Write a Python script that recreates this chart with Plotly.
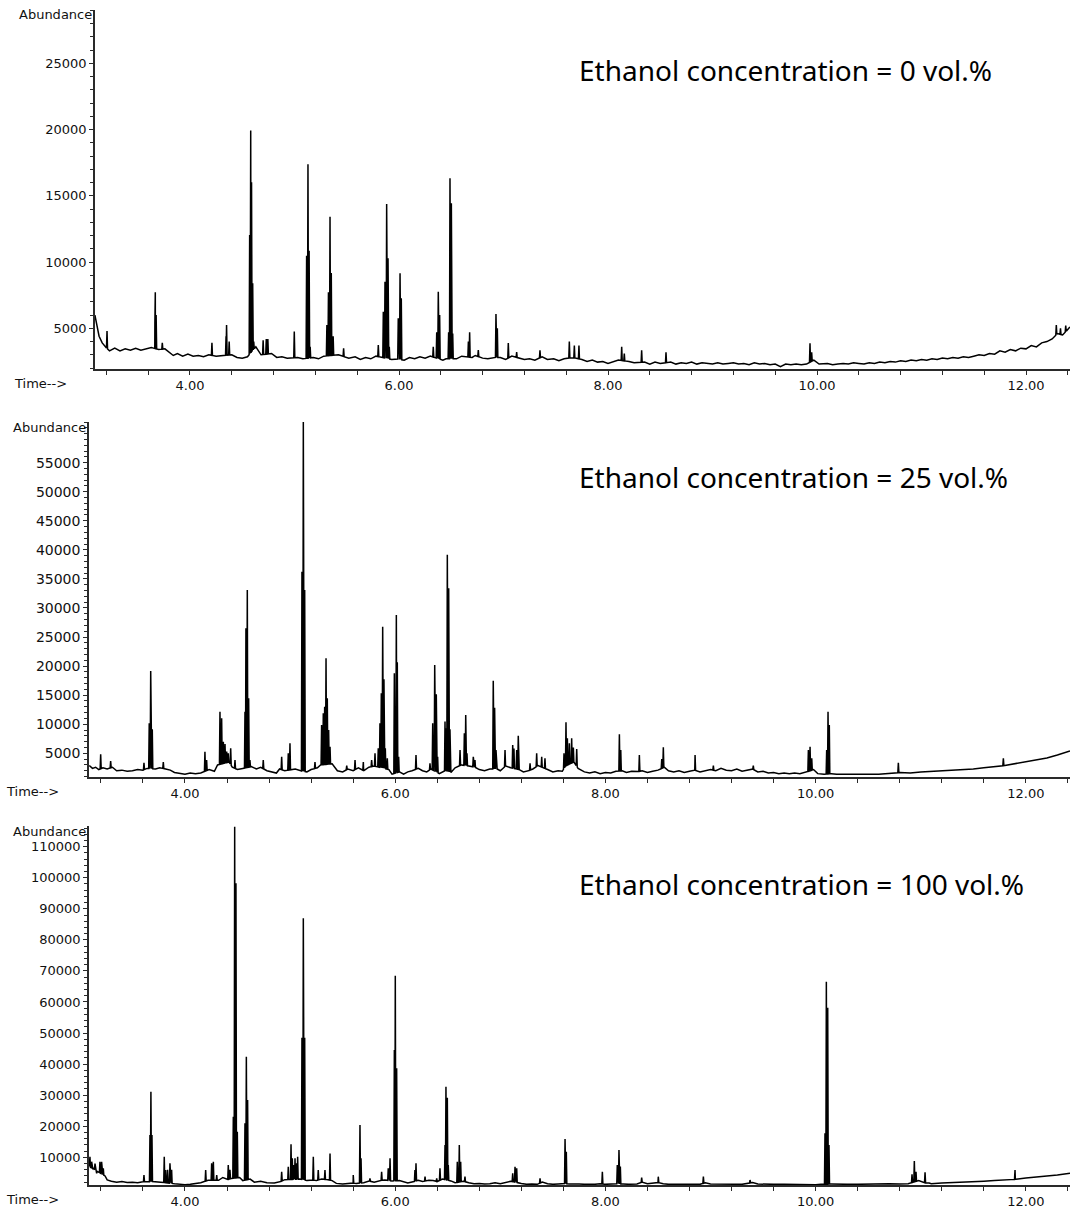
import numpy as np
import plotly.graph_objects as go

# ---------------- chromatogram data (time in min, abundance) ----------------
# Panel A: ethanol 0 vol.%
base_a_t = [3.09, 3.11, 3.13, 3.16, 3.19, 3.23, 3.28, 3.33, 3.38, 3.43, 3.48, 3.53, 3.58, 3.63, 3.70, 3.76,
            3.80, 3.84, 3.88, 3.93, 3.98, 4.03, 4.08, 4.13, 4.18, 4.25, 4.30, 4.40, 4.45, 4.50, 4.55, 4.63,
            4.68, 4.78, 4.83, 4.88, 4.93, 5.03, 5.08, 5.18, 5.23, 5.28, 5.42, 5.52, 5.58, 5.63, 5.68, 5.73,
            5.78, 5.93, 5.97, 6.05, 6.10, 6.15, 6.20, 6.25, 6.30, 6.42, 6.45, 6.55, 6.60, 6.70, 6.73, 6.80,
            6.85, 6.90, 6.97, 7.02, 7.08, 7.15, 7.20, 7.25, 7.30, 7.37, 7.42, 7.48, 7.53, 7.58, 7.66, 7.75,
            7.80, 7.85, 7.90, 7.95, 8.00, 8.05, 8.10, 8.20, 8.25, 8.35, 8.40, 8.45, 8.50, 8.60, 8.65, 8.70,
            8.75, 8.80, 8.85, 8.90, 8.95, 9.00, 9.05, 9.10, 9.15, 9.20, 9.25, 9.30, 9.35, 9.40, 9.45, 9.50,
            9.55, 9.60, 9.65, 9.70, 9.75, 9.80, 9.85, 9.90, 9.97, 10.02, 10.10, 10.15, 10.20, 10.25, 10.30,
            10.35, 10.40, 10.45, 10.50, 10.55, 10.60, 10.65, 10.70, 10.75, 10.80, 10.85, 10.90, 10.95, 11.00,
            11.05, 11.10, 11.15, 11.20, 11.25, 11.30, 11.35, 11.40, 11.45, 11.50, 11.55, 11.60, 11.65, 11.70,
            11.75, 11.80, 11.85, 11.90, 11.95, 12.00, 12.05, 12.10, 12.15, 12.20, 12.25, 12.30, 12.35, 12.40, 12.42]
base_a_y = [6000, 5300, 4400, 3900, 3600, 3300, 3500, 3300, 3450, 3350, 3500, 3350, 3450, 3550, 3400, 3450,
            3200, 2950, 3100, 2900, 3050, 2900, 2950, 2850, 3000, 2900, 2950, 3000, 2800, 2750, 2850, 3600,
            3000, 3100, 2800, 2850, 2750, 2800, 2700, 2800, 2700, 2900, 3000, 2750, 2850, 2650, 2800, 2700,
            2900, 2650, 2700, 2600, 2800, 2700, 2850, 2750, 2900, 2600, 2700, 2700, 2900, 2800, 2950, 2750,
            2700, 2800, 2800, 2650, 2900, 2750, 2650, 2700, 2600, 2850, 2650, 2700, 2550, 2700, 2800, 2650,
            2500, 2600, 2450, 2500, 2350, 2450, 2600, 2500, 2400, 2450, 2300, 2450, 2350, 2450, 2300, 2400,
            2350, 2450, 2300, 2400, 2350, 2300, 2400, 2300, 2350, 2400, 2300, 2350, 2250, 2400, 2300, 2350,
            2250, 2300, 2100, 2300, 2250, 2300, 2250, 2300, 2600, 2300, 2350, 2250, 2300, 2350, 2300,
            2400, 2350, 2300, 2400, 2350, 2450, 2400, 2500, 2450, 2550, 2500, 2600, 2550, 2650,
            2600, 2700, 2650, 2750, 2700, 2800, 2750, 2850, 2800, 2900, 3000, 2950, 3100, 3050,
            3300, 3200, 3400, 3300, 3500, 3450, 3700, 3600, 3900, 4000, 4200, 4600, 4500, 4900, 5100]
peak_a_t = [3.206, 3.664, 3.668, 3.676, 3.735, 4.210, 4.345, 4.350, 4.375, 4.571, 4.581, 4.589, 4.600,
            4.610, 4.700, 4.730, 4.745, 4.998, 5.116, 5.129, 5.140, 5.150, 5.310, 5.325, 5.340, 5.352,
            5.370, 5.470, 5.802, 5.850, 5.866, 5.882, 5.895, 5.907, 5.993, 6.010, 6.022, 6.328, 6.361,
            6.376, 6.389, 6.475, 6.488, 6.501, 6.514, 6.664, 6.676, 6.759, 6.928, 6.941, 7.046, 7.126,
            7.349, 7.630, 7.678, 7.722, 8.131, 8.156, 8.322, 8.555, 9.933, 9.949, 12.290, 12.330, 12.380]
peak_a_y = [4800, 5400, 7720, 6000, 3900, 3900, 4400, 5250, 4000, 12040, 19920, 16020, 8400,
            4000, 4100, 4200, 4200, 4750, 10480, 17380, 10860, 3600, 5250, 7720, 13420, 9170,
            4400, 3500, 3740, 6250, 8520, 14380, 10280, 3600, 5750, 9150, 7260, 3600, 4700,
            7760, 6000, 4700, 16320, 14430, 4600, 4000, 4700, 3350, 6080, 5000, 3890, 3200,
            3350, 4000, 3700, 3700, 3600, 3100, 3350, 3200, 3870, 3200, 5250, 5000, 5200]

# Panel B: ethanol 25 vol.%
base_b_t = [3.09, 3.12, 3.15, 3.18, 3.22, 3.26, 3.31, 3.35, 3.40, 3.45, 3.50, 3.55, 3.60, 3.64, 3.72, 3.76,
            3.82, 3.86, 3.90, 3.95, 4.00, 4.05, 4.10, 4.15, 4.23, 4.28, 4.31, 4.42, 4.45, 4.50, 4.55, 4.63,
            4.68, 4.72, 4.78, 4.82, 4.87, 4.90, 4.95, 5.05, 5.10, 5.16, 5.20, 5.26, 5.29, 5.40, 5.45, 5.50,
            5.55, 5.60, 5.65, 5.70, 5.75, 5.80, 5.94, 5.97, 6.04, 6.08, 6.12, 6.16, 6.22, 6.26, 6.30, 6.34,
            6.42, 6.46, 6.53, 6.57, 6.63, 6.70, 6.76, 6.80, 6.85, 6.90, 6.97, 7.00, 7.05, 7.10, 7.18, 7.22,
            7.27, 7.31, 7.36, 7.41, 7.45, 7.50, 7.55, 7.59, 7.62, 7.70, 7.74, 7.80, 7.85, 7.90, 7.95, 8.00,
            8.05, 8.10, 8.16, 8.20, 8.25, 8.30, 8.35, 8.40, 8.45, 8.50, 8.56, 8.60, 8.65, 8.70, 8.75, 8.80,
            8.85, 8.90, 8.95, 9.00, 9.05, 9.10, 9.15, 9.20, 9.25, 9.30, 9.35, 9.40, 9.45, 9.50, 9.55, 9.60,
            9.65, 9.70, 9.75, 9.80, 9.85, 9.90, 9.98, 10.02, 10.08, 10.15, 10.20, 10.30, 10.40, 10.50, 10.60,
            10.70, 10.80, 10.90, 11.00, 11.10, 11.20, 11.30, 11.40, 11.50, 11.60, 11.70, 11.80, 11.90, 12.00,
            12.10, 12.20, 12.30, 12.42]
base_b_y = [2900, 2400, 2600, 2200, 2500, 2300, 2600, 2000, 2100, 1900, 2000, 2200, 2100, 2400, 2300, 2500,
            2300, 2100, 1700, 1600, 1400, 1600, 1500, 1600, 2200, 1900, 3000, 3500, 2600, 2200, 2400, 2700,
            2300, 2600, 2000, 1800, 1600, 2300, 2000, 2300, 2000, 1800, 2200, 2500, 3000, 3200, 2000, 1800,
            2300, 2000, 2500, 2000, 2600, 2800, 2200, 1400, 1800, 1400, 1800, 2000, 2400, 2000, 1800, 2300,
            1500, 2000, 1700, 2500, 3000, 2800, 2600, 2200, 2000, 2300, 2300, 2000, 2800, 2500, 2200, 1800,
            2000, 2300, 2900, 2500, 2200, 1800, 2000, 1900, 2800, 3500, 2400, 1800, 1600, 1800, 1500, 1700,
            1600, 1900, 2000, 1700, 1900, 1800, 2000, 1700, 1900, 2100, 2600, 2000, 1800, 2000, 1700, 1900,
            2100, 1800, 2000, 2200, 2000, 2400, 2100, 2000, 2300, 1900, 2100, 2300, 1800, 1900, 1600, 1700,
            1500, 1600, 1500, 1600, 1500, 1700, 2200, 1500, 1400, 1500, 1400, 1400, 1350, 1400, 1400,
            1500, 1700, 1600, 1800, 1900, 1900, 2100, 2200, 2300, 2500, 2700, 2900, 3200, 3500,
            3800, 4200, 4700, 5400]
peak_b_t = [3.198, 3.293, 3.610, 3.660, 3.674, 3.689, 3.794, 4.190, 4.206, 4.333, 4.349, 4.365, 4.381,
            4.397, 4.412, 4.435, 4.476, 4.571, 4.580, 4.593, 4.606, 4.618, 4.745, 4.920, 4.983, 4.999,
            5.113, 5.126, 5.139, 5.237, 5.300, 5.316, 5.329, 5.342, 5.354, 5.367, 5.380, 5.539, 5.618,
            5.697, 5.776, 5.808, 5.839, 5.855, 5.868, 5.881, 5.893, 5.906, 5.925, 5.992, 6.011, 6.020,
            6.033, 6.198, 6.331, 6.357, 6.376, 6.391, 6.404, 6.474, 6.483, 6.496, 6.509, 6.521, 6.617,
            6.658, 6.671, 6.683, 6.743, 6.759, 6.933, 6.946, 6.959, 7.045, 7.118, 7.130, 7.156, 7.171,
            7.283, 7.346, 7.394, 7.425, 7.606, 7.625, 7.638, 7.657, 7.679, 7.695, 7.727, 8.133, 8.146,
            8.323, 8.536, 8.551, 8.853, 9.027, 9.407, 9.931, 9.947, 9.963, 10.105, 10.118, 10.130,
            10.787, 11.786]
peak_b_y = [4830, 3680, 3380, 10160, 19160, 9130, 3500, 5280, 3850, 12160, 11020, 7000, 6600,
            5280, 5000, 5860, 3850, 12160, 26500, 33100, 14460, 3850, 3850, 4400, 5000, 6720,
            36250, 62000, 33100, 3500, 9870, 11880, 13000, 21350, 14460, 9010, 6140, 2900, 3850,
            3500, 3850, 5000, 5860, 10160, 15320, 26780, 17730, 5860, 4140, 18760, 28800, 20660,
            4400, 4700, 3270, 10160, 20190, 15150, 4400, 10450, 9300, 39140, 33400, 9130, 5570,
            8430, 11590, 5000, 4400, 3850, 17500, 12850, 5570, 5570, 6430, 5800, 5570, 8030,
            3270, 5000, 4400, 4140, 5000, 10330, 7570, 6720, 7570, 6000, 5740, 8270, 5570,
            4700, 4000, 6030, 4700, 2900, 2900, 5570, 6140, 4140, 5570, 12160, 9870,
            3380, 4140]

# Panel C: ethanol 100 vol.%
base_c_t = [3.09, 3.24, 3.26, 3.30, 3.35, 3.40, 3.45, 3.50, 3.55, 3.60, 3.72, 3.77, 3.90, 3.95, 4.00, 4.05,
            4.10, 4.15, 4.22, 4.32, 4.36, 4.40, 4.44, 4.52, 4.55, 4.62, 4.66, 4.72, 4.78, 4.85, 4.90, 4.95,
            5.09, 5.16, 5.20, 5.25, 5.30, 5.36, 5.40, 5.44, 5.50, 5.55, 5.60, 5.63, 5.70, 5.75, 5.80, 5.85,
            5.90, 5.97, 6.04, 6.08, 6.12, 6.18, 6.22, 6.26, 6.32, 6.36, 6.40, 6.45, 6.53, 6.57, 6.65, 6.70,
            6.75, 6.80, 6.85, 6.90, 6.95, 7.00, 7.05, 7.10, 7.20, 7.25, 7.30, 7.35, 7.40, 7.45, 7.50, 7.55,
            7.60, 7.66, 7.70, 7.75, 7.80, 7.85, 7.90, 7.95, 8.00, 8.05, 8.10, 8.17, 8.22, 8.30, 8.35, 8.40,
            8.45, 8.50, 8.55, 8.60, 8.70, 8.80, 8.90, 8.95, 9.00, 9.10, 9.20, 9.30, 9.40, 9.45, 9.50, 9.60,
            9.70, 9.80, 9.90, 10.00, 10.05, 10.15, 10.20, 10.30, 10.40, 10.50, 10.60, 10.70, 10.80, 10.88,
            10.98, 11.02, 11.08, 11.10, 11.20, 11.30, 11.40, 11.50, 11.60, 11.70, 11.80, 11.90, 12.00, 12.10,
            12.20, 12.30, 12.42]
base_c_y = [7000, 4000, 2700, 2300, 2000, 2200, 1900, 2000, 1800, 2100, 2200, 2000, 1500, 1300, 1200, 1300,
            1500, 1800, 2600, 2600, 3500, 2800, 3200, 3500, 2500, 3000, 2000, 2300, 1800, 1700, 2000, 2800,
            3000, 2500, 2800, 2500, 3000, 2800, 2500, 1600, 1400, 1500, 1700, 1600, 1800, 2400, 2000, 2500,
            2700, 2400, 2500, 2000, 1700, 2200, 2600, 2200, 2600, 2500, 2200, 3000, 2400, 1800, 2300, 1800,
            1500, 1600, 1400, 1500, 1800, 1500, 2000, 2300, 1600, 1300, 1400, 1300, 2000, 1500, 1300, 1400,
            1600, 1400, 1300, 1400, 1300, 1200, 1300, 1500, 1300, 1400, 1500, 1400, 1300, 1400, 2000, 1500,
            1600, 1900, 1500, 1300, 1300, 1200, 1300, 1800, 1400, 1300, 1400, 1300, 1900, 1400, 1300, 1300,
            1300, 1200, 1300, 1200, 1300, 1400, 1300, 1300, 1300, 1400, 1400, 1500, 1400, 1500,
            2500, 1900, 1700, 1500, 1700, 1800, 2000, 2100, 2300, 2500, 2700, 2900, 3300, 3600,
            3900, 4300, 4900]
peak_c_t = [3.096, 3.112, 3.128, 3.144, 3.160, 3.191, 3.207, 3.223, 3.610, 3.667, 3.676, 3.686, 3.803,
            3.816, 3.835, 3.857, 3.873, 4.197, 4.254, 4.270, 4.302, 4.412, 4.428, 4.460, 4.473, 4.485,
            4.498, 4.571, 4.584, 4.596, 4.920, 4.983, 5.009, 5.021, 5.034, 5.047, 5.063, 5.072, 5.113,
            5.126, 5.139, 5.221, 5.268, 5.332, 5.380, 5.601, 5.665, 5.675, 5.760, 5.871, 5.934, 5.951,
            5.992, 6.001, 6.014, 6.188, 6.198, 6.284, 6.395, 6.426, 6.474, 6.483, 6.496, 6.505, 6.591,
            6.610, 6.623, 6.664, 7.118, 7.140, 7.156, 7.378, 7.616, 7.628, 7.971, 8.113, 8.129, 8.142,
            8.345, 8.503, 8.932, 9.376, 10.089, 10.102, 10.115, 10.127, 10.917, 10.939, 10.955, 11.041,
            11.897]
peak_c_y = [10190, 8580, 6440, 8000, 4850, 8580, 8580, 6440, 4290, 17180, 31120, 17180, 10190,
            5900, 6000, 8040, 6000, 5900, 8040, 8580, 4290, 7500, 6000, 23080, 116400, 98200,
            18240, 20940, 42390, 28440, 5370, 6970, 14180, 9650, 7500, 9650, 8040, 10190, 48500,
            86930, 48500, 10190, 5900, 5900, 11260, 4290, 20400, 9700, 3220, 5370, 6440, 9700,
            44540, 68450, 38650, 5900, 8070, 3760, 3220, 6440, 13960, 32730, 29190, 7490, 8600,
            13960, 8600, 3760, 4850, 6970, 6440, 3220, 15850, 11790, 5370, 7500, 12350, 7000,
            3440, 3760, 3760, 2690, 17710, 66520, 58170, 13960, 4500, 8810, 5370, 5150,
            5900]

labels = ["Ethanol concentration = 0 vol.%",
          "Ethanol concentration = 25 vol.%",
          "Ethanol concentration = 100 vol.%"]
time_ticks = [4, 6, 8, 10, 12]
abund_ticks_a = [5000, 10000, 15000, 20000, 25000]
abund_ticks_b = [5000, 10000, 15000, 20000, 25000, 30000, 35000, 40000, 45000, 50000, 55000]
abund_ticks_c = [10000, 20000, 30000, 40000, 50000, 60000, 70000, 80000, 90000, 100000, 110000]


def trace_points(bt, ba, pt, pa, half=0.005):
    """Merge the baseline with narrow spikes standing on it."""
    bt = np.asarray(bt, float)
    ba = np.asarray(ba, float)
    pts = list(zip(bt, ba))
    for t, a in zip(pt, pa):
        pts.append((t - half, float(np.interp(t - half, bt, ba))))
        pts.append((t, a))
        pts.append((t + half, float(np.interp(t + half, bt, ba))))
    pts.sort(key=lambda p: p[0])
    xs, ys = zip(*pts)
    return list(xs), list(ys)


W, H = 1070, 1210
# layout of each panel in pixels: left edge, top, bottom; axis ranges
panels = [
    dict(data=(base_a_t, base_a_y, peak_a_t, peak_a_y), left=95, top=10, bot=369,
         xr=[3.091, 12.421], yr=[1930, 29020], ticks=abund_ticks_a, mdt=1000, ty=70, fs=13),
    dict(data=(base_b_t, base_b_y, peak_b_t, peak_b_y), left=89, top=422, bot=777,
         xr=[3.087, 12.42], yr=[920, 62000], ticks=abund_ticks_b, mdt=1000, ty=477, fs=14),
    dict(data=(base_c_t, base_c_y, peak_c_t, peak_c_y), left=89, top=826, bot=1185,
         xr=[3.087, 12.42], yr=[1082, 116660], ticks=abund_ticks_c, mdt=2000, ty=884, fs=13),
]

AX = "#2a2a2a"

fig = go.Figure()
annotations = []
for i, p in enumerate(panels):
    n = "" if i == 0 else str(i + 1)
    tickfont = dict(family="DejaVu Sans", size=p["fs"], color="#111111")
    x, y = trace_points(*p["data"])
    fig.add_trace(go.Scatter(x=x, y=y, mode="lines", line=dict(color="black", width=1.5),
                             xaxis="x" + n, yaxis="y" + n, showlegend=False, hoverinfo="skip"))
    ydom = [1 - p["bot"] / H, 1 - p["top"] / H]
    fig.layout["xaxis" + n] = dict(
        domain=[p["left"] / W, 1], range=p["xr"], anchor="y" + n,
        tickmode="array", tickvals=time_ticks, ticktext=["%.2f" % v for v in time_ticks],
        ticks="outside", ticklen=4, tickwidth=1, tickcolor=AX,
        minor=dict(dtick=0.4, tick0=0, ticks="outside", ticklen=4, tickcolor=AX),
        showline=True, linecolor=AX, linewidth=1.5, showgrid=False, zeroline=False,
        tickfont=dict(family="DejaVu Sans", size=13, color="#111111"), fixedrange=True)
    fig.layout["yaxis" + n] = dict(
        domain=ydom, range=p["yr"], anchor="x" + n,
        tickmode="array", tickvals=p["ticks"], ticktext=[str(v) for v in p["ticks"]],
        ticks="outside", ticklen=4, tickwidth=1, tickcolor=AX,
        minor=dict(dtick=p["mdt"], tick0=0, ticks="outside", ticklen=3, tickcolor=AX),
        showline=True, linecolor=AX, linewidth=1.5, showgrid=False, zeroline=False,
        tickfont=tickfont, fixedrange=True)
    annotations.append(dict(text="Abundance", xref="paper", yref="paper",
                            x=(p["left"] - 1) / W, y=1 - (p["top"] + 5) / H,
                            xanchor="right", yanchor="middle", showarrow=False,
                            font=dict(family="DejaVu Sans", size=13, color="#111111")))
    annotations.append(dict(text="Time-->", xref="paper", yref="paper",
                            x=(12 if i == 0 else 4) / W, y=1 - (p["bot"] + 14) / H,
                            xanchor="left", yanchor="middle", showarrow=False,
                            font=dict(family="DejaVu Sans", size=13, color="#111111")))
    annotations.append(dict(text=labels[i], xref="paper", yref="paper",
                            x=577 / W, y=1 - p["ty"] / H, xanchor="left", yanchor="middle",
                            showarrow=False, font=dict(family="Noto Sans", size=28, color="black")))

fig.update_layout(width=W, height=H, margin=dict(l=0, r=0, t=0, b=0),
                  paper_bgcolor="white", plot_bgcolor="white", annotations=annotations)
fig.write_html("out.html")
